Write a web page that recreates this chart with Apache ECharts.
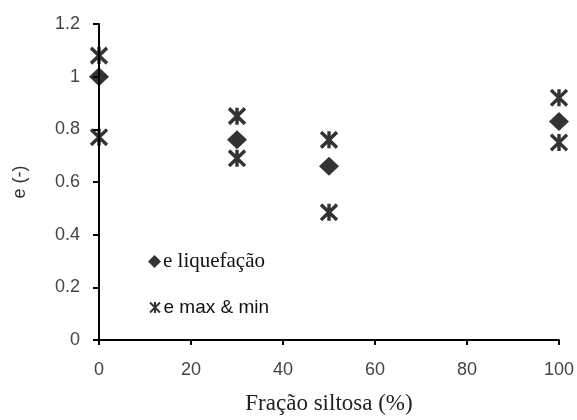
<!DOCTYPE html>
<html><head><meta charset="utf-8">
<script src="https://cdn.jsdelivr.net/npm/echarts@6/dist/echarts.min.js"></script>
<style>html,body{margin:0;padding:0;background:#fff}#c{width:577px;height:420px}</style>
</head><body><div id="c"></div>
<script>
var liqX = [0, 30, 50, 100];
var liqY = [1.0, 0.76, 0.66, 0.83];
var maxMinX = [0, 0, 30, 30, 50, 50, 100, 100];
var maxMinY = [1.08, 0.77, 0.85, 0.69, 0.76, 0.485, 0.92, 0.75];
var xTicks = [0, 20, 40, 60, 80, 100];
var yTicks = [0, 0.2, 0.4, 0.6, 0.8, 1, 1.2];

var starPath = 'path://M0,0 L10,10 M10,0 L0,10 M5,-0.5 L5,10.5';
var chart = echarts.init(document.getElementById('c'));
chart.setOption({
  animation: false,
  backgroundColor: '#fff',
  grid: {left: 99, right: 15, top: 24, bottom: 79},
  legend: [
    {left: 148, top: 251, itemGap: 0, itemWidth: 13, itemHeight: 13, padding: 0,
     data: ['e liquefação'],
     textStyle: {fontFamily: 'Liberation Serif', fontSize: 21, color: '#111', padding: [0,0,0,-3]}},
    {left: 149, top: 298, itemWidth: 11, itemHeight: 11, padding: 0,
     data: ['e max & min'],
     textStyle: {fontFamily: 'Liberation Sans', fontSize: 19, color: '#111', padding: [0,0,0,-2]}}
  ],
  xAxis: {
    type: 'value', min: 0, max: 100, interval: 20,
    name: 'Fração siltosa (%)', nameLocation: 'middle', nameGap: 52,
    nameTextStyle: {fontFamily: 'Liberation Serif', fontSize: 23, color: '#222'},
    axisLine: {lineStyle: {color: '#000', width: 2}},
    axisTick: {show: true, length: 5, inside: false, lineStyle: {color: '#000', width: 2}},
    axisLabel: {fontFamily: 'Liberation Sans', fontSize: 18, color: '#444', margin: 21,
      formatter: function(v){ return xTicks.indexOf(v) >= 0 ? String(v) : ''; }},
    splitLine: {show: false}
  },
  yAxis: {
    type: 'value', min: 0, max: 1.2, interval: 0.2,
    name: 'e (-)', nameLocation: 'middle', nameGap: 70, nameRotate: 90,
    nameTextStyle: {fontFamily: 'Liberation Sans', fontSize: 18, color: '#333'},
    axisLine: {show: true, lineStyle: {color: '#000', width: 2}},
    axisTick: {show: true, length: 6, lineStyle: {color: '#000', width: 2}},
    axisLabel: {fontFamily: 'Liberation Sans', fontSize: 18, color: '#444', margin: 19,
      formatter: function(v){ return String(Math.round(v*10)/10); }},
    splitLine: {show: false}
  },
  series: [
    {name: 'e liquefação', type: 'scatter', symbol: 'diamond', symbolSize: [20, 19],
     itemStyle: {color: '#000'},
     data: liqX.map(function(x,i){ return [x, liqY[i]]; }), z: 3},
    {name: 'e max & min', type: 'scatter', symbol: starPath, symbolSize: [16, 17],
     itemStyle: {color: 'transparent', borderColor: '#000', borderWidth: 3.5},
     data: maxMinX.map(function(x,i){ return [x, maxMinY[i]]; }), z: 4}
  ]
});
</script></body></html>
